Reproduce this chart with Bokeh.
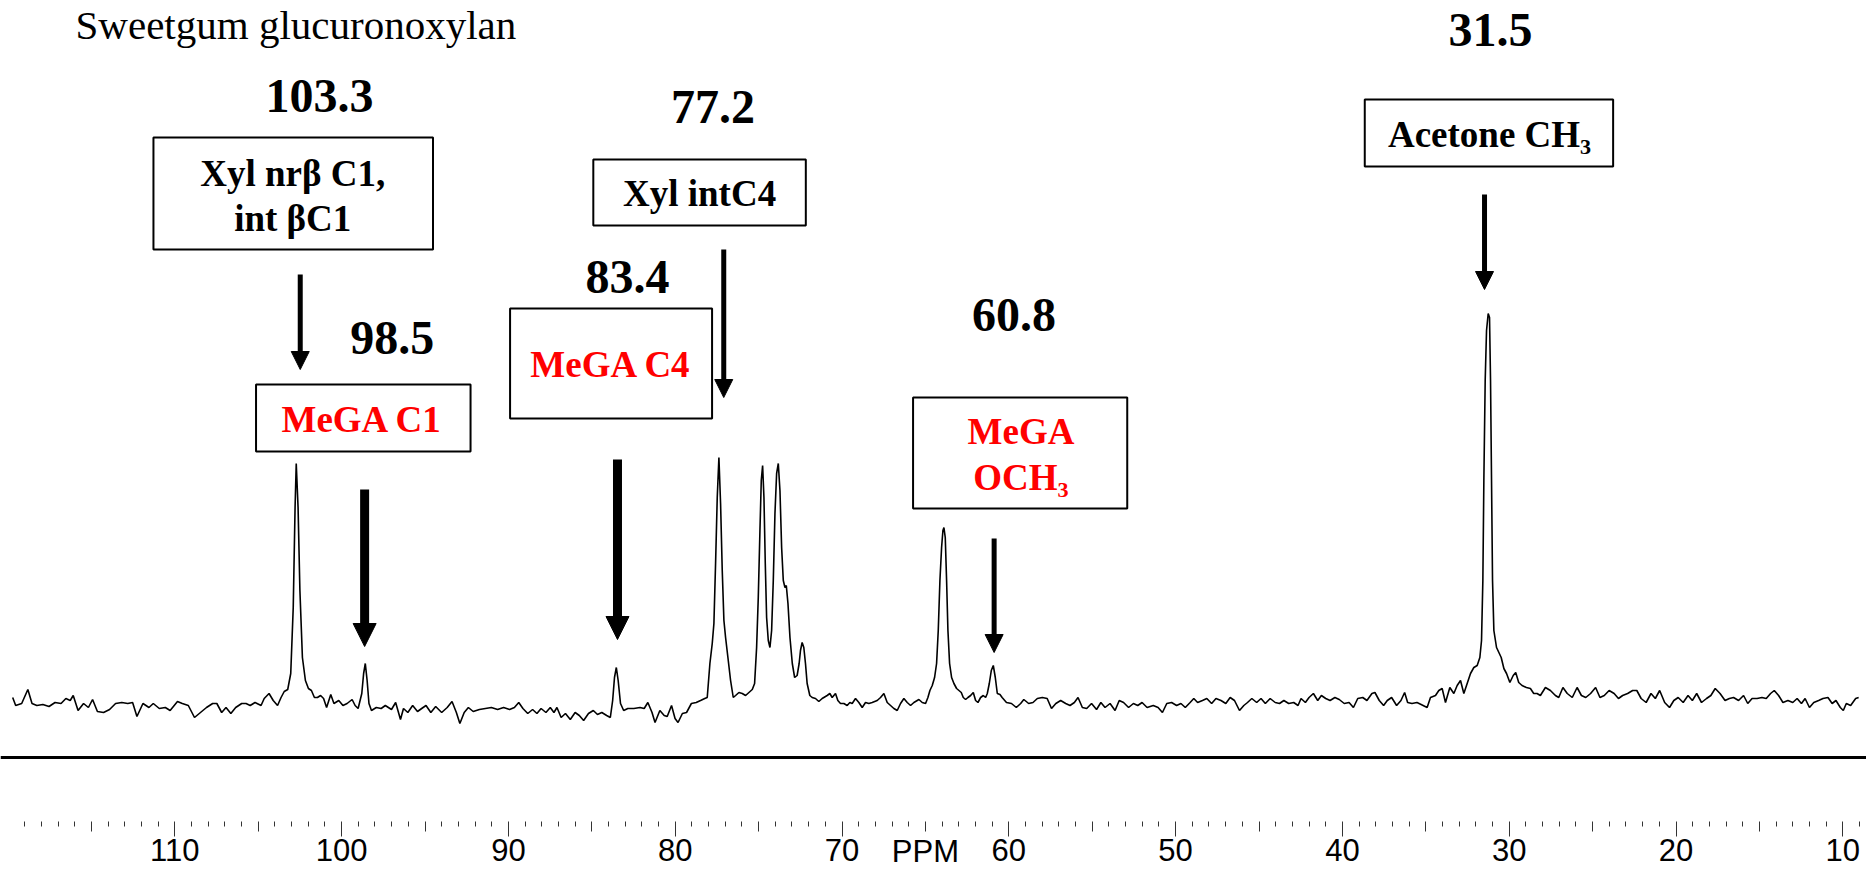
from bokeh.plotting import figure
from bokeh.models import (Range1d, LinearAxis, FixedTicker, Label, Arrow,
                          NormalHead, BoxAnnotation, Span)
from bokeh.embed import file_html
from bokeh.resources import INLINE

# ---------------- data ----------------
TITLE = "Sweetgum glucuronoxylan"

# 13C spectrum: (chemical shift in ppm, intensity in arbitrary units)
spec_120_78 = [
    (119.72, 10), (119.54, 2), (119.18, 4), (118.81, 18), (118.56, 4), (118.27, 2), (117.91, 3),
    (117.54, 1), (117.18, 5), (116.82, 4), (116.53, 9), (116.27, 7), (116.09, 12), (115.80, -3),
    (115.47, 4), (115.18, 0), (114.93, 8), (114.64, -4), (114.27, -5), (113.91, -2), (113.55, 4),
    (113.18, 5), (112.82, 4), (112.53, 5), (112.27, -9), (111.91, 4), (111.55, 0), (111.29, 4),
    (110.93, -1), (110.57, 0), (110.28, -3), (109.84, 6), (109.55, 4), (109.19, 2), (108.82, -10),
    (108.46, -5), (108.10, 0), (107.73, 4), (107.48, 4), (107.19, -5), (106.93, 0), (106.64, -6),
    (106.35, 0), (105.99, 4), (105.73, 4), (105.48, 2), (105.19, 5), (104.83, 2), (104.64, 9),
    (104.35, 14), (104.10, 7), (103.84, 2), (103.63, 10), (103.44, 16), (103.23, 18), (103.05, 34),
    (102.90, 100), (102.79, 200), (102.72, 244), (102.61, 200), (102.50, 117), (102.35, 50),
    (102.17, 27), (101.99, 19), (101.81, 17), (101.63, 10), (101.45, 10), (101.26, 12), (101.08, 9),
    (100.90, 0), (100.65, 13), (100.46, 4), (100.17, 7), (99.92, 2), (99.67, 4), (99.37, 8),
    (99.19, 2), (99.01, -1), (98.79, 14), (98.68, 34), (98.58, 44), (98.47, 27), (98.36, 4),
    (98.21, -3), (97.92, 0), (97.63, -1), (97.38, 2), (97.01, -2), (96.76, 5), (96.47, -12),
    (96.29, -1), (96.03, -5), (95.74, 2), (95.45, -4), (95.20, -1), (94.94, 2), (94.65, -5),
    (94.36, 1), (94.00, -5), (93.67, 0), (93.38, 6), (93.12, -5), (92.91, -16), (92.65, -5),
    (92.40, 0), (92.11, -4), (91.74, -2), (91.38, -1), (91.02, 0), (90.65, -2), (90.29, 0),
    (89.93, -2), (89.64, 0), (89.38, 5), (89.13, -1), (88.84, -6), (88.55, -2), (88.29, -6),
    (88.04, -1), (87.75, -5), (87.49, 0), (87.27, -5), (87.09, 0), (86.84, -10), (86.58, -6),
    (86.29, -12), (86.00, -5), (85.75, -8), (85.49, -13), (85.20, -6), (84.91, -3), (84.66, -7),
    (84.40, -5), (84.11, -8), (83.89, -10), (83.75, 7), (83.64, 30), (83.53, 40), (83.42, 27),
    (83.28, 4), (83.09, -3), (82.84, -1), (82.48, -1), (82.11, 0), (81.86, -1), (81.64, 5),
    (81.39, -5), (81.21, -15), (80.92, -3), (80.66, -8), (80.48, -9), (80.22, 2), (80.01, -11),
    (79.83, -15), (79.57, -6), (79.32, -5), (79.03, 4), (78.74, 5), (78.48, 7), (78.23, 9),
]
spec_78_60 = [
    (78.08, 10), (77.92, 44), (77.78, 64), (77.68, 84), (77.58, 144), (77.48, 210), (77.38, 250),
    (77.28, 204), (77.18, 137), (77.08, 87), (76.98, 70), (76.84, 50), (76.68, 27), (76.52, 10),
    (76.38, 12), (76.18, 15), (75.98, 14), (75.78, 12), (75.58, 15), (75.38, 18), (75.24, 24),
    (75.12, 60), (75.02, 110), (74.92, 177), (74.84, 227), (74.76, 242), (74.68, 210), (74.60, 144),
    (74.52, 90), (74.42, 67), (74.32, 60), (74.22, 77), (74.12, 127), (74.02, 194), (73.92, 234),
    (73.82, 244), (73.72, 217), (73.62, 160), (73.52, 127), (73.42, 120), (73.34, 122), (73.24, 104),
    (73.12, 70), (72.98, 44), (72.84, 30), (72.69, 32), (72.57, 44), (72.49, 57), (72.39, 65),
    (72.29, 60), (72.19, 44), (72.09, 24), (71.93, 12), (71.79, 10), (71.59, 9), (71.39, 6),
    (71.19, 9), (70.89, 12), (70.73, 14), (70.59, 10), (70.39, 14), (70.25, 7), (70.09, 4),
    (69.89, 4), (69.69, 2), (69.53, 5), (69.39, 4), (69.19, 9), (68.99, 5), (68.79, 0), (68.59, 5),
    (68.39, 4), (68.19, 5), (67.89, 7), (67.69, 10), (67.49, 14), (67.29, 5), (67.09, 2),
    (66.89, -1), (66.69, -3), (66.49, 4), (66.29, 9), (66.09, 5), (65.89, 2), (65.69, 5),
    (65.39, 8), (65.19, 5), (64.99, 4), (64.85, 10), (64.73, 17), (64.59, 22), (64.45, 30),
    (64.33, 44), (64.23, 77), (64.13, 127), (64.03, 160), (63.95, 177), (63.89, 180), (63.81, 170),
    (63.73, 127), (63.65, 77), (63.55, 44), (63.43, 30), (63.29, 24), (63.13, 19), (62.99, 17),
    (62.85, 15), (62.73, 10), (62.59, 8), (62.45, 10), (62.29, 12), (62.13, 15), (61.99, 7),
    (61.85, 5), (61.69, 10), (61.53, 12), (61.39, 10), (61.29, 14), (61.17, 24), (61.05, 37),
    (60.93, 42), (60.81, 30), (60.69, 14), (60.53, 13),
]
spec_60_35 = [
    (60.40, 10), (60.14, 5), (59.84, 4), (59.55, 0), (59.29, 4), (59.10, 8), (58.81, 4), (58.55, 5),
    (58.29, 9), (57.99, 10), (57.70, 9), (57.44, -1), (57.18, 4), (56.89, 7), (56.59, 4), (56.33, 2),
    (56.07, 5), (55.85, 10), (55.59, 0), (55.33, -1), (55.04, 4), (54.74, -2), (54.48, 5), (54.23, 0),
    (53.93, 4), (53.63, -3), (53.38, 7), (53.12, 5), (52.82, 0), (52.53, 4), (52.27, 2), (52.01, 5),
    (51.71, 0), (51.34, 2), (51.05, 0), (50.79, -5), (50.53, 4), (50.24, 5), (49.94, 2), (49.68, 4),
    (49.42, 0), (49.13, 5), (48.91, 9), (48.68, 5), (48.39, 7), (48.13, 9), (47.84, 4), (47.58, 9),
    (47.28, 7), (46.99, 4), (46.73, 10), (46.47, 7), (46.17, -3), (45.91, 2), (45.69, 5), (45.43, 9),
    (45.14, 5), (44.88, 9), (44.62, 4), (44.33, 9), (44.03, 5), (43.77, 4), (43.51, 7), (43.22, 4),
    (42.92, 5), (42.66, 2), (42.48, 9), (42.22, 5), (42.00, 10), (41.74, 14), (41.48, 7), (41.26, 12),
    (41.00, 9), (40.74, 7), (40.45, 10), (40.19, 8), (39.89, 4), (39.60, 5), (39.34, 0), (39.08, 9),
    (38.78, 10), (38.53, 7), (38.23, 14), (38.05, 15), (37.79, 7), (37.53, 2), (37.31, 7), (37.05, 10),
    (36.75, 2), (36.49, 7), (36.27, 15), (36.09, 5), (35.83, 4), (35.53, 5), (35.28, 3),
]
spec_35_27 = [
    (34.92, 0), (34.72, 10), (34.42, 12), (34.22, 17), (34.02, 19), (33.82, 5), (33.56, 20),
    (33.32, 14), (33.12, 22), (32.92, 27), (32.72, 14), (32.52, 24), (32.32, 34), (32.12, 40),
    (31.92, 42), (31.76, 50), (31.66, 67), (31.58, 127), (31.52, 227), (31.44, 327), (31.36, 377),
    (31.26, 394), (31.18, 390), (31.12, 327), (31.06, 227), (31.00, 127), (30.92, 77), (30.76, 60),
    (30.62, 55), (30.48, 50), (30.32, 39), (30.16, 34), (29.96, 25), (29.76, 32), (29.61, 35),
    (29.43, 25), (29.23, 22), (28.97, 20), (28.73, 19), (28.53, 14), (28.33, 14), (28.13, 12),
    (27.83, 20), (27.53, 17), (27.23, 12), (27.03, 10),
]
spec_27_9 = [
    (26.78, 20), (26.52, 14), (26.22, 10), (25.93, 20), (25.67, 12), (25.41, 10), (25.12, 14),
    (24.82, 20), (24.56, 10), (24.30, 12), (24.01, 17), (23.71, 14), (23.45, 9), (23.20, 12),
    (22.90, 14), (22.60, 17), (22.35, 17), (22.09, 9), (21.79, 5), (21.50, 14), (21.24, 9),
    (20.98, 17), (20.68, 5), (20.39, 0), (20.13, 7), (19.87, 10), (19.57, 5), (19.28, 12),
    (19.02, 7), (18.76, 14), (18.47, 5), (18.17, 9), (17.91, 12), (17.65, 19), (17.36, 14),
    (17.06, 7), (16.80, 9), (16.55, 10), (16.25, 7), (15.95, 12), (15.70, 4), (15.44, 9),
    (15.14, 9), (14.85, 10), (14.59, 9), (14.33, 14), (14.11, 17), (13.85, 12), (13.59, 5),
    (13.29, 7), (13.00, 5), (12.74, 9), (12.48, 4), (12.26, 9), (12.00, 0), (11.74, 5), (11.45, 7),
    (11.19, 9), (10.89, 10), (10.64, 4), (10.41, 7), (10.15, 0), (9.97, -3), (9.79, 4), (9.53, 2),
    (9.23, 9), (9.05, 10),
]
spectrum = spec_120_78 + spec_78_60 + spec_60_35 + spec_35_27 + spec_27_9
ppm = [p for p, _ in spectrum]
intensity = [v for _, v in spectrum]

# axis ticks (ppm)
major_ticks = [10, 20, 30, 40, 50, 60, 70, 80, 90, 100, 110]
mid_ticks = [15, 25, 35, 45, 55, 65, 75, 85, 95, 105, 115]
minor_ticks = [t for t in range(9, 120) if t % 5 != 0]
unit_tick = 65
unit_text = "PPM"

# peak assignments
shift_text = ["103.3", "98.5", "83.4", "77.2", "60.8", "31.5"]
assign_text = [["Xyl nrβ C1,", "int βC1"], ["MeGA C1"], ["Xyl intC4"],
               ["MeGA C4"], ["MeGA", "OCH₃"], ["Acetone CH₃"]]
assign_color = ["black", "red", "black", "red", "red", "black"]

# ---------------- layout of the annotations ----------------
SERIF = "Liberation Serif"
SANS = "Liberation Sans Narrow, Arial Narrow, Liberation Sans"

# text centres (ppm, intensity units)
title_pos = (115.95, 683)
shift_pos = [(101.32, 612), (96.96, 370), (82.86, 431), (77.73, 601), (59.69, 393), (31.12, 678)]
# box edges: left ppm, right ppm, top, bottom
box_pos = [(111.28, 94.52, 570, 458), (105.13, 92.27, 323, 256), (84.91, 72.17, 548, 482),
           (89.90, 77.79, 399, 289), (65.74, 52.90, 310, 199), (38.66, 23.77, 608, 541)]
box_text_pos = [[(102.93, 534), (102.93, 489)], [(98.77, 288)], [(78.54, 514)],
                [(83.85, 343)], [(59.27, 276), (59.27, 230)], [(31.18, 573)]]
# arrows: x ppm, y start, y end (tip), shaft width, head size
arrow_pos = [(102.48, 433, 338, 5, 18), (98.62, 218, 61, 9, 23), (83.46, 248, 68, 9, 23),
             (77.09, 458, 310, 5, 18), (60.88, 169, 55, 5, 18), (31.48, 513, 418, 5, 18)]

p = figure(width=1866, height=873,
           x_range=Range1d(120.45, 8.58), y_range=Range1d(-166, 707),
           x_axis_type=None, y_axis_type=None,
           output_backend="svg", toolbar_location=None,
           min_border=0, outline_line_color=None,
           background_fill_color="white", border_fill_color="white")
p.grid.visible = False

p.line(ppm, intensity, line_color="black", line_width=1.6)

# base line under the spectrum
p.add_layout(Span(location=-50, dimension="width", line_color="black", line_width=3))

AXIS_Y = -114


def add_axis(ticks, minor, tick_out, minor_out, standoff=2, overrides=None,
             tick_color="#333333", label_color="black"):
    ax = LinearAxis(ticker=FixedTicker(ticks=ticks, minor_ticks=minor),
                    fixed_location=AXIS_Y,
                    axis_line_color=None,
                    major_tick_in=0, major_tick_out=tick_out,
                    minor_tick_in=0, minor_tick_out=minor_out,
                    major_tick_line_color=tick_color, minor_tick_line_color=tick_color,
                    major_tick_line_width=1, minor_tick_line_width=1,
                    major_label_text_font=SANS, major_label_text_font_size="31px",
                    major_label_text_color=label_color, major_label_standoff=standoff)
    if overrides is not None:
        ax.major_label_overrides = overrides
    p.add_layout(ax, "below")
    return ax


add_axis(major_ticks, minor_ticks, 15, 5)
add_axis(mid_ticks, [], 10, 0, label_color=None)
add_axis([unit_tick], [], 10, 0, overrides={unit_tick: unit_text}, tick_color=None)

# title
p.add_layout(Label(x=title_pos[0], y=title_pos[1], text=TITLE, text_font=SERIF,
                   text_font_size="41px", text_align="left", text_baseline="middle",
                   text_color="black"))

# shift values
for txt, (x, y) in zip(shift_text, shift_pos):
    p.add_layout(Label(x=x, y=y, text=txt, text_font=SERIF, text_font_style="bold",
                       text_font_size="48px", text_align="center",
                       text_baseline="middle", text_color="black"))

# assignment boxes
for (l, r, t, b), lines, anchors, col in zip(box_pos, assign_text, box_text_pos, assign_color):
    p.add_layout(BoxAnnotation(left=l, right=r, top=t, bottom=b,
                               fill_color=None, fill_alpha=0,
                               line_color="black", line_alpha=1.0, line_width=2))
    for txt, (x, y) in zip(lines, anchors):
        p.add_layout(Label(x=x, y=y, text=txt, text_font=SERIF, text_font_style="bold",
                           text_font_size="37px", text_align="center",
                           text_baseline="middle", text_color=col))

# arrows
for x, y0, y1, w, hs in arrow_pos:
    p.add_layout(Arrow(end=NormalHead(size=hs, fill_color="black", line_color="black",
                                      line_width=1),
                       x_start=x, y_start=y0, x_end=x, y_end=y1,
                       line_color="black", line_width=w))

open("out.html", "w").write(file_html(p, INLINE))
